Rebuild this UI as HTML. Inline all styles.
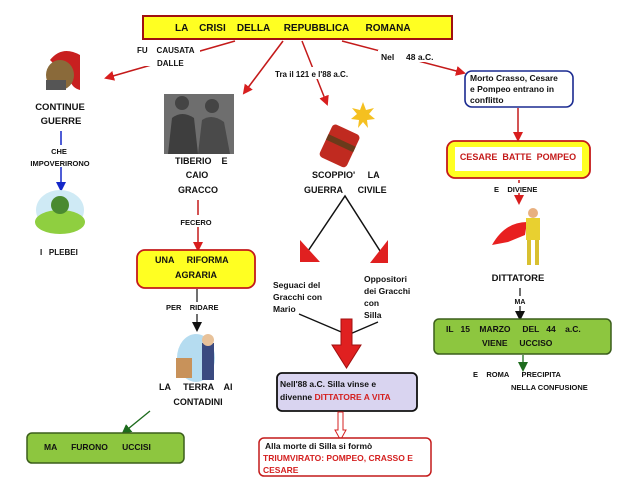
<!DOCTYPE html>
<html><head><meta charset="utf-8"><style>
html,body{margin:0;padding:0;background:#fff;width:628px;height:480px;overflow:hidden}
svg text{font-family:"Liberation Sans",Arial,sans-serif;font-weight:bold;fill:#111}
</style></head><body>
<svg width="628" height="480" viewBox="0 0 628 480" xmlns="http://www.w3.org/2000/svg">
<defs>
<marker id="ar" markerWidth="10" markerHeight="10" refX="8" refY="5" orient="auto" markerUnits="userSpaceOnUse"><path d="M0,0 L10,5 L0,10 z" fill="#d81e1e"/></marker>
<marker id="ab" markerWidth="10" markerHeight="10" refX="8" refY="5" orient="auto" markerUnits="userSpaceOnUse"><path d="M0,0 L10,5 L0,10 z" fill="#1427c8"/></marker>
<marker id="ak" markerWidth="10" markerHeight="10" refX="8" refY="5" orient="auto" markerUnits="userSpaceOnUse"><path d="M0,0 L10,5 L0,10 z" fill="#111"/></marker>
<marker id="ag" markerWidth="10" markerHeight="10" refX="8" refY="5" orient="auto" markerUnits="userSpaceOnUse"><path d="M0,0 L10,5 L0,10 z" fill="#1d6b1d"/></marker>
</defs>
<!-- title -->
<rect x="143" y="16" width="309" height="23" fill="#ffff22" stroke="#a01010" stroke-width="2"/>
<text x="175" y="31" font-size="10" xml:space="preserve">LA    CRISI    DELLA     REPUBBLICA      ROMANA</text>
<!-- left branch -->
<line x1="235" y1="41" x2="106" y2="78" stroke="#c41a1a" stroke-width="1.6" marker-end="url(#ar)"/>
<rect x="134" y="44" width="66" height="22" fill="#fff"/>
<text x="137" y="53" font-size="8" xml:space="preserve">FU    CAUSATA</text>
<text x="157" y="66" font-size="8">DALLE</text>
<!-- helmet -->
<path d="M50,60 Q62,45 80,55 L80,90 Q72,88 70,80 Z" fill="#c82020"/>
<ellipse cx="60" cy="75" rx="14" ry="15" fill="#8a6a3a"/>
<rect x="46" y="80" width="20" height="10" fill="#555"/>
<text x="60" y="110" font-size="9.5" text-anchor="middle">CONTINUE</text>
<text x="61" y="124" font-size="9.5" text-anchor="middle">GUERRE</text>
<line x1="61" y1="131" x2="61" y2="190" stroke="#1427c8" stroke-width="1.5" marker-end="url(#ab)"/>
<rect x="25" y="145" width="70" height="22" fill="#fff"/>
<text x="59" y="154" font-size="7.5" text-anchor="middle">CHE</text>
<text x="60" y="166" font-size="7.5" text-anchor="middle">IMPOVERIRONO</text>
<ellipse cx="60" cy="210" rx="24" ry="20" fill="#cfeaf5"/>
<ellipse cx="60" cy="222" rx="25" ry="12" fill="#8fcf40"/>
<circle cx="60" cy="205" r="9" fill="#4a8a30"/>
<text x="40" y="255" font-size="8" xml:space="preserve">I   PLEBEI</text>
<!-- gracchi -->
<line x1="283" y1="41" x2="244" y2="93" stroke="#c41a1a" stroke-width="1.6" marker-end="url(#ar)"/>
<rect x="164" y="94" width="70" height="60" fill="#6e6e6e"/>
<circle cx="182" cy="103" r="7" fill="#444"/><circle cx="212" cy="106" r="7" fill="#444"/>
<path d="M168,154 L172,118 Q182,110 194,118 L198,154 Z" fill="#3e3e3e"/>
<path d="M198,154 L202,120 Q212,113 224,122 L230,154 Z" fill="#4a4a4a"/>
<text x="175" y="164" font-size="9" xml:space="preserve">TIBERIO    E</text>
<text x="197" y="178" font-size="9" text-anchor="middle">CAIO</text>
<text x="198" y="193" font-size="9" text-anchor="middle">GRACCO</text>
<line x1="198" y1="200" x2="198" y2="250" stroke="#c41a1a" stroke-width="1.5" marker-end="url(#ar)"/>
<rect x="175" y="215" width="46" height="12" fill="#fff"/>
<text x="196" y="225" font-size="7.5" text-anchor="middle">FECERO</text>
<rect x="137" y="250" width="118" height="38" rx="8" fill="#ffff22" stroke="#c41a1a" stroke-width="1.8"/>
<text x="155" y="263" font-size="9" xml:space="preserve">UNA     RIFORMA</text>
<text x="196" y="278" font-size="9" text-anchor="middle">AGRARIA</text>
<line x1="197" y1="289" x2="197" y2="330" stroke="#111" stroke-width="1.2" marker-end="url(#ak)"/>
<rect x="165" y="302" width="62" height="12" fill="#fff"/>
<text x="166" y="310" font-size="7.5" xml:space="preserve">PER    RIDARE</text>
<ellipse cx="196" cy="358" rx="19" ry="24" fill="#b5dcf0"/>
<rect x="176" y="358" width="16" height="20" fill="#c8925a"/>
<rect x="202" y="343" width="12" height="37" fill="#3a4a80"/>
<circle cx="208" cy="340" r="6" fill="#e8c29a"/>
<text x="159" y="390" font-size="9" xml:space="preserve">LA     TERRA    AI</text>
<text x="198" y="405" font-size="9" text-anchor="middle">CONTADINI</text>
<line x1="150" y1="411" x2="123" y2="433" stroke="#1d6b1d" stroke-width="1.3" marker-end="url(#ag)"/>
<rect x="27" y="433" width="157" height="30" rx="5" fill="#8dc63f" stroke="#3b5e1b" stroke-width="1.5"/>
<text x="44" y="450" font-size="8.5" xml:space="preserve">MA      FURONO      UCCISI</text>
<!-- civil war -->
<line x1="302" y1="41" x2="327" y2="104" stroke="#c41a1a" stroke-width="1.5" marker-end="url(#ar)"/>
<rect x="274" y="67" width="98" height="12" fill="#fff"/>
<text x="275" y="77" font-size="8">Tra il 121 e l'88 a.C.</text>
<g transform="rotate(25 340 145)"><rect x="325" y="128" width="30" height="36" rx="4" fill="#c02a20"/><rect x="325" y="140" width="30" height="6" fill="#6a3a1a"/></g>
<path d="M360,110 l3,-8 l3,8 l8,-2 l-5,6 l6,5 l-8,1 l1,8 l-5,-6 l-5,6 l1,-8 l-8,-1 l6,-5 l-5,-6z" fill="#f5c020"/>
<text x="312" y="178" font-size="9" xml:space="preserve">SCOPPIO'     LA</text>
<text x="304" y="193" font-size="9" xml:space="preserve">GUERRA      CIVILE</text>
<polyline points="306,254 345,196 382,254" fill="none" stroke="#111" stroke-width="1.5"/>
<path d="M300,240 L300,262 L320,262 Z" fill="#e02020"/>
<path d="M388,240 L370,263 L388,263 Z" fill="#e02020"/>
<text font-size="8.5"><tspan x="273" y="288">Seguaci del</tspan><tspan x="273" y="300">Gracchi con</tspan><tspan x="273" y="312">Mario</tspan></text>
<text font-size="8.5"><tspan x="364" y="282">Oppositori</tspan><tspan x="364" y="294">dei Gracchi</tspan><tspan x="364" y="306">con</tspan><tspan x="364" y="318">Silla</tspan></text>
<line x1="299" y1="314" x2="346" y2="334" stroke="#111" stroke-width="1.3"/>
<line x1="378" y1="322" x2="350" y2="334" stroke="#111" stroke-width="1.3"/>
<path d="M341,319 L352,319 L352,345 L361,345 L346.5,368 L332,345 L341,345 Z" fill="#e02020" stroke="#a01010"/>
<rect x="277" y="373" width="140" height="38" rx="5" fill="#d9d4f0" stroke="#111" stroke-width="1.8"/>
<text x="280" y="387" font-size="8.5">Nell'88 a.C.  Silla vinse e</text>
<text x="280" y="400" font-size="8.5">divenne <tspan style="fill:#d42020">  DITTATORE A VITA</tspan></text>
<path d="M338,412 L343,412 L343,430 L346,430 L340.5,440 L335,430 L338,430 Z" fill="#fff" stroke="#d42020" stroke-width="1"/>
<rect x="259" y="438" width="172" height="38" rx="5" fill="#fff" stroke="#c41a1a" stroke-width="1.5"/>
<text x="265" y="449" font-size="8.5">Alla morte di Silla si formò</text>
<text x="263" y="461" font-size="8.5" style="fill:#d42020">TRIUMVIRATO: POMPEO, CRASSO E</text>
<text x="263" y="473" font-size="8.5" style="fill:#d42020">CESARE</text>
<!-- right branch -->
<line x1="342" y1="41" x2="464" y2="73" stroke="#c41a1a" stroke-width="1.5" marker-end="url(#ar)"/>
<rect x="378" y="50" width="60" height="12" fill="#fff"/>
<text x="381" y="60" font-size="8.5" xml:space="preserve">Nel     48 a.C.</text>
<rect x="465" y="71" width="108" height="36" rx="7" fill="#fff" stroke="#1a2a90" stroke-width="1.6"/>
<text x="470" y="81" font-size="8.5">Morto Crasso, Cesare</text>
<text x="470" y="92" font-size="8.5">e Pompeo entrano in</text>
<text x="470" y="103" font-size="8.5">conflitto</text>
<line x1="518" y1="108" x2="518" y2="140" stroke="#c41a1a" stroke-width="1.5" marker-end="url(#ar)"/>
<rect x="447" y="141" width="143" height="37" rx="8" fill="#ffff22" stroke="#c41a1a" stroke-width="1.8"/>
<rect x="455" y="147" width="127" height="24" fill="#fff"/>
<text x="518" y="160" font-size="9" text-anchor="middle" style="fill:#c41a1a" xml:space="preserve">CESARE  BATTE  POMPEO</text>
<line x1="519" y1="180" x2="519" y2="203" stroke="#c41a1a" stroke-width="1.5" marker-end="url(#ar)"/>
<rect x="490" y="183" width="56" height="10" fill="#fff"/>
<text x="494" y="192" font-size="7.5" xml:space="preserve">E    DIVIENE</text>
<path d="M527,222 Q505,222 492,245 L508,242 L525,235 Z" fill="#e82020"/>
<rect x="526" y="218" width="14" height="22" fill="#e8d030"/>
<circle cx="533" cy="213" r="5" fill="#e8b080"/>
<rect x="527" y="240" width="4" height="25" fill="#d8c030"/><rect x="535" y="240" width="4" height="25" fill="#d8c030"/>
<text x="518" y="281" font-size="9.5" text-anchor="middle">DITTATORE</text>
<line x1="520" y1="288" x2="520" y2="319" stroke="#111" stroke-width="1.2" marker-end="url(#ak)"/>
<rect x="512" y="296" width="16" height="10" fill="#fff"/>
<text x="520" y="304" font-size="7" text-anchor="middle">MA</text>
<rect x="434" y="319" width="177" height="35" rx="5" fill="#8dc63f" stroke="#3b5e1b" stroke-width="1.5"/>
<text x="446" y="332" font-size="8.5" xml:space="preserve">IL   15    MARZO     DEL   44    a.C.</text>
<text x="482" y="346" font-size="8.5" xml:space="preserve">VIENE     UCCISO</text>
<line x1="523" y1="355" x2="523" y2="370" stroke="#1d6b1d" stroke-width="1.3" marker-end="url(#ag)"/>
<text x="473" y="377" font-size="7.5" xml:space="preserve">E    ROMA      PRECIPITA</text>
<text x="511" y="390" font-size="7.5">NELLA CONFUSIONE</text>
</svg>
</body></html>
